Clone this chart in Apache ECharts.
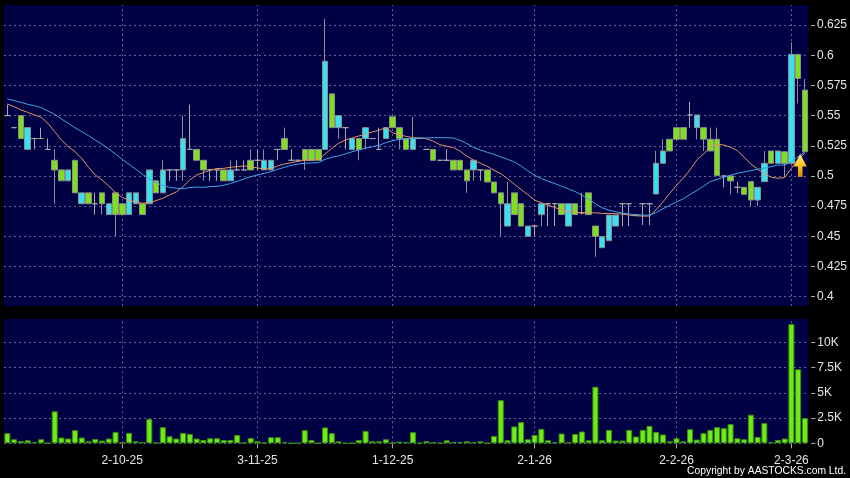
<!DOCTYPE html>
<html><head><meta charset="utf-8">
<script src="https://cdn.jsdelivr.net/npm/echarts@6/dist/echarts.min.js"></script>
<style>html,body{margin:0;padding:0;background:#000;}#c{width:850px;height:478px;}</style>
</head><body><div id="c"></div>
<script>
const dates = ['8-9-25','9-9-25','10-9-25','11-9-25','12-9-25','15-9-25','16-9-25','17-9-25','18-9-25','19-9-25','22-9-25','23-9-25','24-9-25','25-9-25','26-9-25','29-9-25','30-9-25',
'2-10-25','3-10-25','6-10-25','8-10-25','9-10-25','10-10-25','13-10-25','14-10-25','15-10-25','16-10-25','17-10-25','20-10-25','21-10-25','22-10-25','23-10-25','24-10-25','27-10-25','28-10-25','30-10-25','31-10-25',
'3-11-25','4-11-25','5-11-25','6-11-25','7-11-25','10-11-25','11-11-25','12-11-25','13-11-25','14-11-25','17-11-25','18-11-25','19-11-25','20-11-25','21-11-25','24-11-25','25-11-25','26-11-25','27-11-25','28-11-25',
'1-12-25','2-12-25','3-12-25','4-12-25','5-12-25','8-12-25','9-12-25','10-12-25','11-12-25','12-12-25','15-12-25','16-12-25','17-12-25','18-12-25','19-12-25','22-12-25','23-12-25','24-12-25','29-12-25','30-12-25','31-12-25',
'2-1-26','5-1-26','6-1-26','7-1-26','8-1-26','9-1-26','12-1-26','13-1-26','14-1-26','15-1-26','16-1-26','19-1-26','20-1-26','21-1-26','22-1-26','23-1-26','26-1-26','27-1-26','28-1-26','29-1-26','30-1-26',
'2-2-26','3-2-26','4-2-26','5-2-26','6-2-26','9-2-26','10-2-26','11-2-26','12-2-26','13-2-26','16-2-26','20-2-26','23-2-26','24-2-26','25-2-26','26-2-26','27-2-26',
'2-3-26','3-3-26','4-3-26'];
const tickLabels = ['2-10-25','3-11-25','1-12-25','2-1-26','2-2-26','2-3-26'];

const openP = [.550,.540,.550,.522,.531,.531,.522,.513,.505,.496,
.513,.477,.486,.477,.486,.468,.486,.477,.468,.477,
.477,.477,.496,.486,.505,.505,.505,.522,.522,.513,
.505,.505,.505,.496,.505,.505,.513,.513,.505,.505,
.522,.531,.513,.513,.522,.522,.522,.522,.568,.540,
.540,.522,.531,.531,.531,.522,.531,.549,.540,.531,
.522,.531,.522,.522,.513,.513,.513,.513,.505,.505,
.505,.505,.495,.486,.4585,.486,.477,.450,.4585,.468,
.477,.477,.477,.4585,.477,.4695,.486,.4585,.4406,.4464,
.4585,.477,.477,.4676,.477,.477,.4851,.5105,.5304,.540,
.540,.5505,.540,.540,.5304,.5304,.500,.500,.4906,.4906,
.4953,.4801,.4953,.5207,.5105,.520,.5104,.6007,.5711];
const closeP = [.550,.540,.531,.540,.531,.531,.522,.505,.496,.505,
.486,.486,.477,.477,.477,.477,.468,.468,.486,.486,
.468,.505,.486,.505,.505,.505,.531,.522,.513,.505,
.505,.505,.496,.505,.505,.505,.505,.513,.513,.513,
.522,.522,.513,.513,.513,.513,.513,.595,.540,.550,
.540,.531,.522,.540,.531,.522,.540,.540,.531,.522,
.531,.531,.522,.513,.513,.513,.505,.505,.496,.513,
.505,.495,.486,.477,.477,.468,.4585,.4585,.4585,.477,
.477,.477,.468,.477,.468,.4695,.468,.450,.4497,.4676,
.4676,.477,.477,.4676,.477,.477,.5105,.5207,.5207,.5304,
.5304,.5505,.5505,.5304,.5207,.5003,.500,.4959,.4906,.4848,
.4801,.4906,.5105,.5105,.5207,.5104,.6007,.5808,.520];
const lowP = [.550,.540,.531,.522,.522,.531,.522,.477,.496,.496,
.486,.477,.477,.468,.468,.468,.450,.468,.468,.477,
.468,.477,.486,.486,.496,.496,.496,.522,.513,.496,
.496,.496,.496,.496,.505,.505,.505,.505,.505,.505,
.513,.522,.513,.513,.505,.513,.513,.522,.540,.531,
.522,.522,.513,.522,.531,.522,.531,.540,.522,.522,
.522,.531,.522,.513,.513,.513,.505,.505,.486,.496,
.496,.495,.486,.450,.4585,.468,.4585,.450,.450,.4585,
.4585,.4585,.468,.4585,.468,.468,.468,.433,.4406,.4464,
.4585,.4585,.4585,.4676,.4594,.4594,.4851,.5105,.5207,.5304,
.5304,.540,.5304,.5207,.5207,.5003,.4906,.4848,.4857,.4848,
.4751,.4751,.4953,.5105,.5105,.4993,.5104,.560,.520];
const highP = [.559,.540,.550,.540,.531,.540,.531,.522,.505,.505,
.513,.486,.486,.486,.486,.477,.486,.477,.486,.486,
.477,.505,.496,.513,.505,.505,.550,.559,.522,.513,
.505,.505,.505,.513,.513,.513,.522,.522,.522,.513,
.522,.540,.522,.513,.522,.522,.522,.630,.568,.550,
.540,.531,.531,.540,.531,.540,.540,.549,.540,.531,
.549,.531,.522,.522,.513,.522,.513,.513,.505,.513,
.505,.505,.495,.486,.495,.486,.477,.4585,.4585,.477,
.477,.477,.477,.477,.477,.486,.486,.4585,.4497,.4676,
.4676,.477,.477,.4676,.477,.477,.5207,.5304,.5304,.540,
.540,.5615,.5505,.540,.540,.540,.500,.500,.4953,.4906,
.4953,.4906,.5207,.5207,.5207,.520,.6106,.6007,.5802];
const volume = [1000,400,230,300,130,400,20,3170,570,470,
1300,570,200,430,270,470,1130,100,1030,200,
130,2400,70,1600,700,470,1030,930,470,330,
500,500,330,330,830,70,530,230,70,600,
600,130,30,20,1300,330,30,1570,1000,200,
30,30,330,1230,200,200,400,70,170,130,
1100,30,230,100,30,300,130,130,200,130,
200,30,730,4270,300,1670,2100,400,830,1430,
300,100,970,100,930,1170,300,5600,300,1330,
270,270,1330,670,1330,1730,1130,870,200,500,
200,1400,370,1000,1330,1600,1500,1900,500,400,
2830,630,2000,130,330,470,11800,7330,2500];
const ma10 = [.5596,.5574,.5547,.5527,.5505,.5486,.5436,.5367,.5298,.5243,
.5201,.5146,.5072,.5008,.4967,.4917,.4862,.4823,.4796,.4785,
.4774,.4779,.4796,.4815,.4843,.4868,.4912,.4967,.5008,.5028,
.505,.5061,.5063,.5072,.5077,.5083,.5077,.5066,.5058,.5061,
.5083,.5099,.511,.5121,.513,.5132,.5135,.5182,.5229,.527,
.5298,.5315,.5331,.5345,.5365,.5379,.540,.5358,.534,.5328,
.5317,.5314,.5308,.5289,.5259,.5246,.5235,.5205,.5164,.513,
.5105,.508,.5047,.502,.4978,.4932,.4888,.4846,.480,.4778,
.4758,.4739,.4717,.4706,.470,.4695,.4695,.4695,.469,.469,
.4687,.4684,.4676,.467,.4668,.4668,.472,.4786,.4855,.4923,
.4982,.505,.5132,.5182,.5237,.5262,.5257,.5237,.521,.5155,
.5099,.5058,.5018,.499,.4981,.4986,.5063,.5138,.5188];
const ma20 = [.5638,.5624,.561,.5593,.5582,.5566,.5538,.5511,.5472,.5436,
.54,.5367,.5334,.5298,.5262,.5224,.5182,.5138,.5097,.5055,
.5014,.4975,.4945,.492,.4906,.4898,.4895,.4904,.4908,.4906,
.4912,.4914,.4923,.4937,.4956,.4975,.4994,.5008,.5022,.5036,
.5055,.5072,.5088,.5099,.5105,.5108,.511,.5138,.5155,.5166,
.5182,.5201,.5215,.523,.5242,.5254,.5276,.5292,.5303,.5308,
.5311,.5314,.5314,.5317,.5317,.5317,.5314,.5295,.5268,.5235,
.5215,.5196,.5179,.5157,.5138,.5116,.5083,.5042,.5006,.4978,
.4956,.4937,.4915,.4893,.4871,.4841,.4808,.477,.4736,.4717,
.4703,.4692,.4684,.4679,.4676,.4675,.4697,.4728,.4758,.4784,
.4811,.4846,.4879,.4917,.4953,.4972,.4989,.5006,.5022,.5033,
.5044,.5055,.5066,.5077,.5091,.509,.5118,.516,.52];

const candles = dates.map((d, i) => [openP[i], closeP[i], lowP[i], highP[i]]);
const isTick = (idx, val) => tickLabels.indexOf(val) >= 0;
const GRID_BG = '#000044';
const gridLine = { color: '#62629a', type: [2, 3], width: 1 };
const font = { color: '#e6e6e6', fontFamily: 'Arial, "Liberation Sans", sans-serif', fontSize: 12 };
const vLines = {
  silent: true, z: 1, symbol: ['none', 'none'], label: { show: false },
  lineStyle: gridLine, emphasis: { disabled: true }, animation: false,
  data: tickLabels.map(d => ({ xAxis: d }))
};

const chart = echarts.init(document.getElementById('c'), null, { renderer: 'canvas' });
chart.setOption({
  backgroundColor: '#000',
  animation: false,
  grid: [
    { left: 4, right: 41.7, top: 5, bottom: 172, show: true, backgroundColor: GRID_BG, borderWidth: 0 },
    { left: 4, right: 41.7, top: 25, bottom: 181.3, show: false },
    { left: 4, right: 41.7, top: 319, bottom: 34.7, show: true, backgroundColor: GRID_BG, borderWidth: 0 },
    { left: 4, right: 41.7, top: 342.3, bottom: 34.7, show: false }
  ],
  xAxis: [
    { type: 'category', gridIndex: 0, data: dates, axisLine: { show: false }, axisTick: { show: false }, axisLabel: { show: false }, splitLine: { show: false } },
    { type: 'category', gridIndex: 1, data: dates, show: false },
    { type: 'category', gridIndex: 2, data: dates, offset: 2, axisLine: { show: false },
      axisTick: { show: true, alignWithLabel: true, interval: isTick, length: 5, lineStyle: { color: '#aaaaaa' } },
      axisLabel: Object.assign({ interval: isTick, margin: 9 }, font), splitLine: { show: false } },
    { type: 'category', gridIndex: 3, data: dates, show: false }
  ],
  yAxis: [
    { type: 'value', gridIndex: 0, min: 0.3923, max: 0.6416, show: false, splitLine: { show: false } },
    { type: 'value', gridIndex: 1, position: 'right', min: 0.4, max: 0.625, interval: 0.025, offset: 3,
      axisLine: { show: false }, axisTick: { show: true, length: 4, lineStyle: { color: '#aaaaaa' } },
      axisLabel: Object.assign({ margin: 6, formatter: v => String(parseFloat(v.toFixed(3))) }, font),
      splitLine: { show: true, lineStyle: gridLine } },
    { type: 'value', gridIndex: 2, min: 0, max: 12307, show: false, splitLine: { show: false } },
    { type: 'value', gridIndex: 3, position: 'right', min: 0, max: 10000, interval: 2500, offset: 3,
      axisLine: { show: false }, axisTick: { show: true, length: 4, lineStyle: { color: '#aaaaaa' } },
      axisLabel: Object.assign({ margin: 6, formatter: v => v === 0 ? '0' : (v / 1000) + 'K' }, font),
      splitLine: { show: true, lineStyle: gridLine } }
  ],
  series: [
    { type: 'candlestick', xAxisIndex: 0, yAxisIndex: 0, data: candles, barWidth: 6,
      itemStyle: { color: '#36E2F2', color0: '#7EE01C', borderColor: '#8e8e8e', borderColor0: '#8e8e8e', borderColorDoji: '#a8a8a8', borderWidth: 1 },
      markLine: vLines,
      markPoint: {
        silent: true, label: { show: false }, animation: false,
        data: [{
          coord: [dates[dates.length - 1], 0.50865],
          symbol: 'path://M6.5,0 L13,12.5 L8.8,12.5 L8.8,23 L4.2,23 L4.2,12.5 L0,12.5 Z',
          symbolSize: [13, 23], symbolOffset: [-4.7, 0],
          itemStyle: { color: { type: 'linear', x: 0, y: 0, x2: 0, y2: 1, colorStops: [
            { offset: 0, color: '#FFF27A' }, { offset: 0.5, color: '#FFC21C' }, { offset: 1, color: '#D98A00' }] } }
        }]
      }
    },
    { type: 'line', xAxisIndex: 0, yAxisIndex: 0, data: ma10, showSymbol: false, symbol: 'none',
      lineStyle: { color: '#E39563', width: 1 }, silent: true },
    { type: 'line', xAxisIndex: 0, yAxisIndex: 0, data: ma20, showSymbol: false, symbol: 'none',
      lineStyle: { color: '#3FA6E6', width: 1 }, silent: true },
    { type: 'bar', xAxisIndex: 2, yAxisIndex: 2, data: volume, barWidth: 6,
      itemStyle: { color: '#6FEC18', borderColor: '#3C8E0E', borderWidth: 1 },
      markLine: vLines }
  ],
  graphic: [
    { type: 'text', right: 4, top: 466, style: { text: 'Copyright by AASTOCKS.com Ltd.', fill: '#ffffff', font: '10.3px Arial, "Liberation Sans", sans-serif' } }
  ]
});
</script>
</body></html>
